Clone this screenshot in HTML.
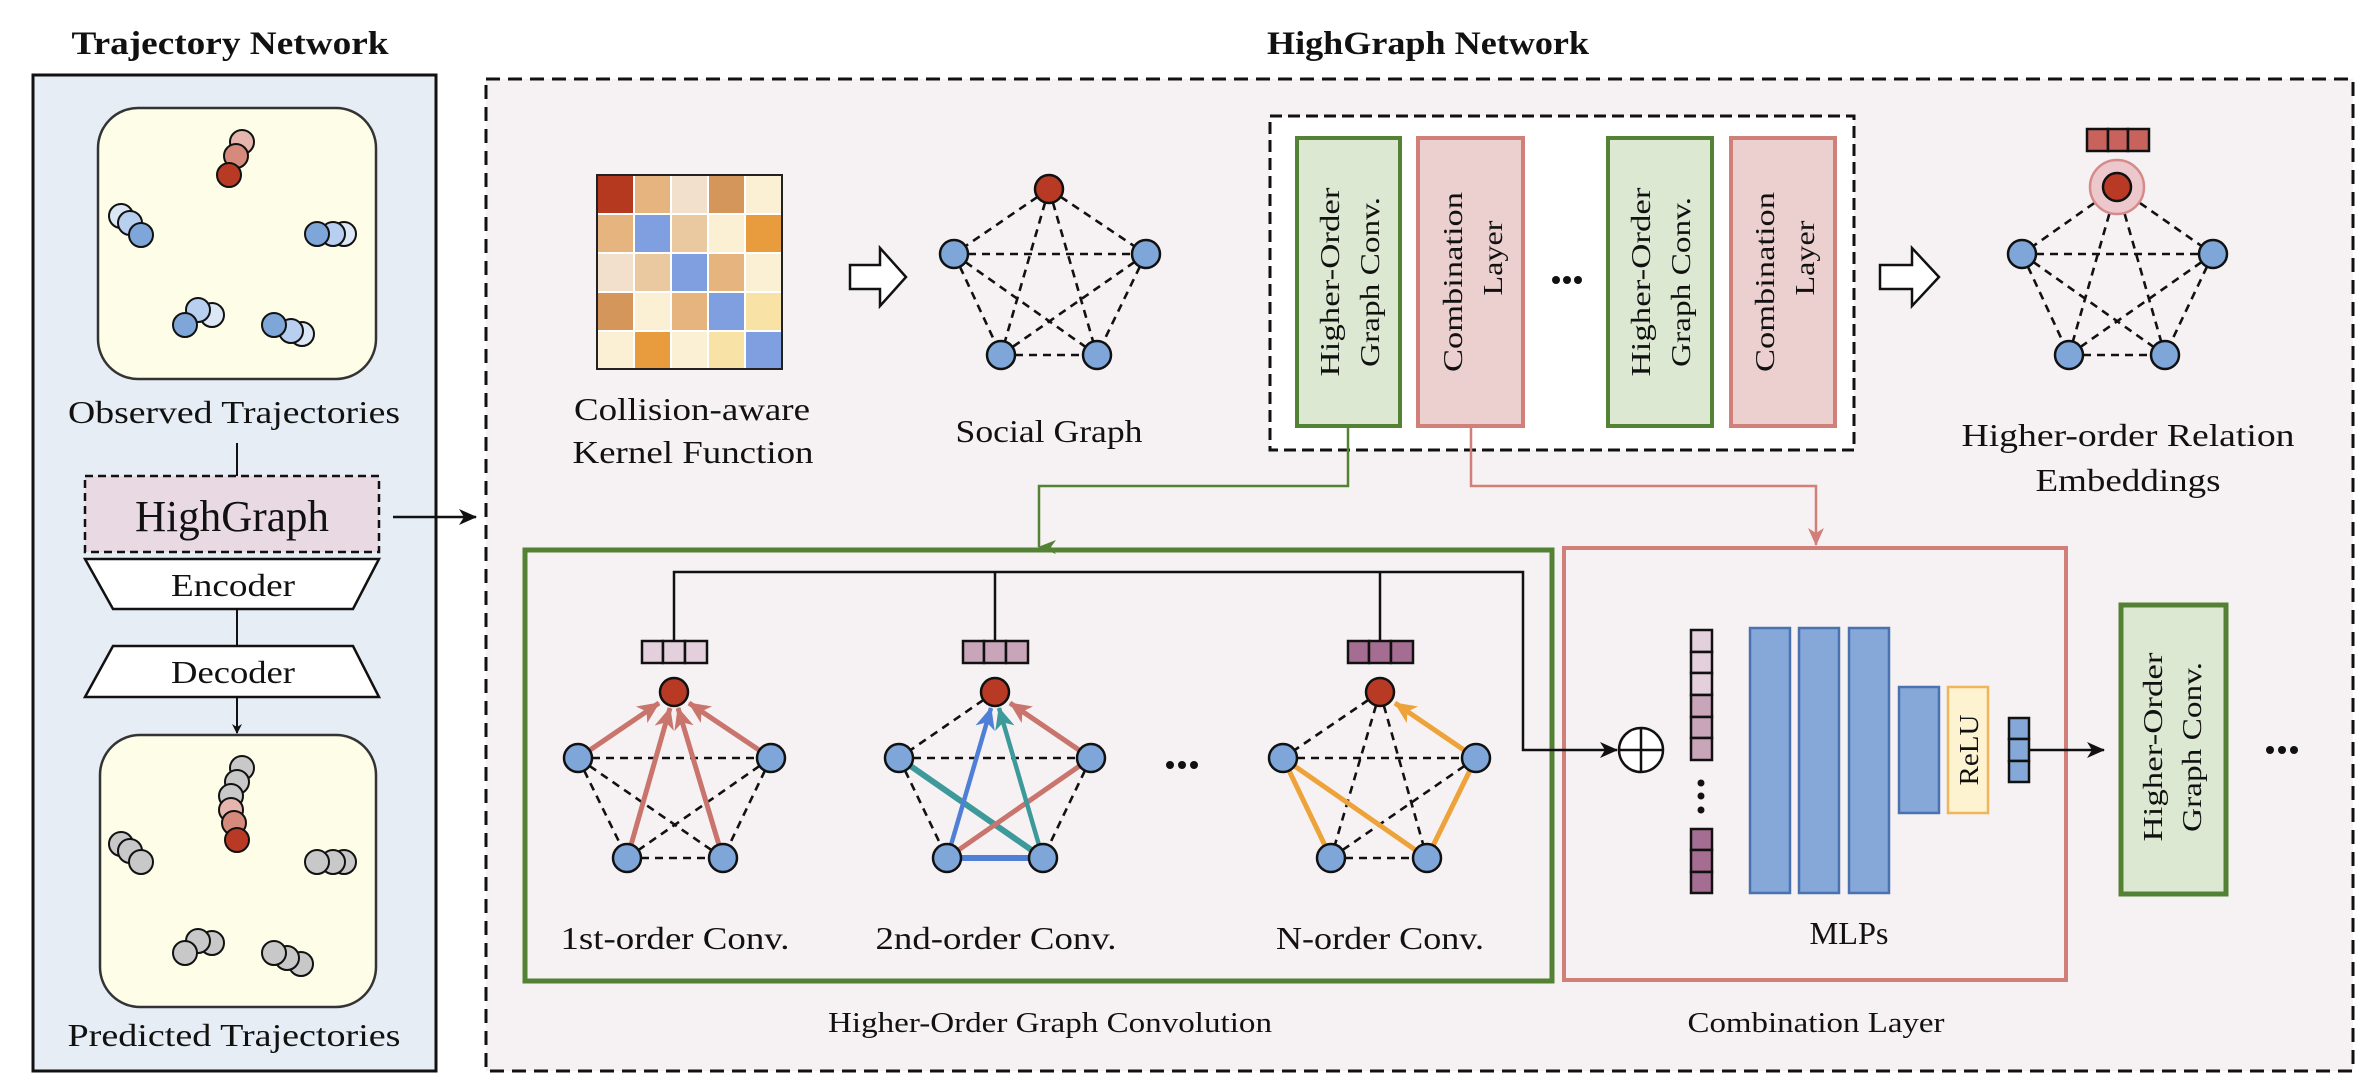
<!DOCTYPE html>
<html><head><meta charset="utf-8"><style>
html,body{margin:0;padding:0;background:#fff;}
svg{display:block;}
text{font-family:"Liberation Serif",serif;fill:#111;}
.t{font-size:32px;}
.b{font-weight:bold;}
.d{stroke:#111;stroke-width:2.6;stroke-dasharray:8 6;fill:none;}
.bar{font-family:"Liberation Serif",serif;font-size:27px;}
</style></head><body>
<svg width="2370" height="1086" viewBox="0 0 2370 1086" xmlns="http://www.w3.org/2000/svg">
<defs>
<marker id="ak" markerWidth="10" markerHeight="10" refX="9" refY="5" orient="auto" markerUnits="userSpaceOnUse"><path d="M0,0 L10,5 L0,10 L3,5z" fill="#111"/></marker>
<marker id="akb" markerWidth="18" markerHeight="16" refX="17" refY="8" orient="auto" markerUnits="userSpaceOnUse"><path d="M0,0 L18,8 L0,16 L5,8z" fill="#111"/></marker>
<marker id="ag" markerWidth="14" markerHeight="18" refX="7" refY="17" orient="auto-start-reverse" markerUnits="userSpaceOnUse"><path d="M0,0 L7,18 L14,0 L7,5z" fill="#548235"/></marker>
<marker id="ar" markerWidth="18" markerHeight="16" refX="17" refY="8" orient="auto" markerUnits="userSpaceOnUse"><path d="M0,0 L18,8 L0,16 L5,8z" fill="#d07f79"/></marker>
<marker id="ac" markerWidth="22" markerHeight="20" refX="21" refY="10" orient="auto" markerUnits="userSpaceOnUse"><path d="M0,0 L22,10 L0,20 L6,10z" fill="#c9746c"/></marker>
<marker id="abl" markerWidth="22" markerHeight="20" refX="21" refY="10" orient="auto" markerUnits="userSpaceOnUse"><path d="M0,0 L22,10 L0,20 L6,10z" fill="#4f7fd6"/></marker>
<marker id="ate" markerWidth="22" markerHeight="20" refX="21" refY="10" orient="auto" markerUnits="userSpaceOnUse"><path d="M0,0 L22,10 L0,20 L6,10z" fill="#3e9a9a"/></marker>
<marker id="aor" markerWidth="22" markerHeight="20" refX="21" refY="10" orient="auto" markerUnits="userSpaceOnUse"><path d="M0,0 L22,10 L0,20 L6,10z" fill="#eea33a"/></marker>
</defs>

<text x="230" y="54" class="b" font-size="33" text-anchor="middle" textLength="317" lengthAdjust="spacingAndGlyphs">Trajectory Network</text>
<text x="1428" y="54" class="b" font-size="33" text-anchor="middle" textLength="322" lengthAdjust="spacingAndGlyphs">HighGraph Network</text>

<rect x="33" y="75" width="403" height="996" fill="#e6edf5" stroke="#111" stroke-width="3"/>
<rect x="98" y="108" width="278" height="271" rx="40" fill="#fefde8" stroke="#333" stroke-width="2.5"/>
<text x="234" y="423" class="t" text-anchor="middle" textLength="332" lengthAdjust="spacingAndGlyphs">Observed Trajectories</text>
<line x1="237" y1="443" x2="237" y2="476" stroke="#111" stroke-width="2"/>
<rect x="85" y="476" width="294" height="76" fill="#e8d9e2" stroke="#111" stroke-width="2.5" stroke-dasharray="8 5"/>
<text x="232" y="531" font-size="44" text-anchor="middle" textLength="194" lengthAdjust="spacingAndGlyphs">HighGraph</text>
<line x1="393" y1="517" x2="476" y2="517" stroke="#111" stroke-width="2.5" marker-end="url(#akb)"/>
<polygon points="85,559 379,559 353,609 113,609" fill="#fff" stroke="#111" stroke-width="2.5"/>
<text x="233" y="596" class="t" text-anchor="middle" textLength="124" lengthAdjust="spacingAndGlyphs">Encoder</text>
<line x1="237" y1="609" x2="237" y2="646" stroke="#111" stroke-width="2"/>
<polygon points="113,646 353,646 379,697 85,697" fill="#fff" stroke="#111" stroke-width="2.5"/>
<text x="233" y="683" class="t" text-anchor="middle" textLength="124" lengthAdjust="spacingAndGlyphs">Decoder</text>
<line x1="237" y1="697" x2="237" y2="733" stroke="#111" stroke-width="2" marker-end="url(#ak)"/>
<rect x="100" y="735" width="276" height="272" rx="40" fill="#fefde8" stroke="#333" stroke-width="2.5"/>
<text x="234" y="1046" class="t" text-anchor="middle" textLength="333" lengthAdjust="spacingAndGlyphs">Predicted Trajectories</text>

<g stroke="#111" stroke-width="2">
<circle cx="242" cy="142" r="12" fill="#e6b5ad"/><circle cx="236" cy="156" r="12" fill="#d68a7c"/><circle cx="229" cy="175" r="12" fill="#b83a24"/>
<circle cx="121" cy="216" r="12" fill="#dbe7f5"/><circle cx="130" cy="223" r="12" fill="#b8cff0"/><circle cx="141" cy="235" r="12" fill="#7ea6d8"/>
<circle cx="344" cy="234" r="12" fill="#dbe7f5"/><circle cx="333" cy="234" r="12" fill="#b8cff0"/><circle cx="317" cy="234" r="12" fill="#7ea6d8"/>
<circle cx="212" cy="315" r="12" fill="#dbe7f5"/><circle cx="198" cy="310" r="12" fill="#b8cff0"/><circle cx="185" cy="325" r="12" fill="#7ea6d8"/>
<circle cx="302" cy="334" r="12" fill="#dbe7f5"/><circle cx="291" cy="331" r="12" fill="#b8cff0"/><circle cx="274" cy="325" r="12" fill="#7ea6d8"/>
</g>
<g stroke="#111" stroke-width="2">
<circle cx="242" cy="768" r="12" fill="#c8c8c8"/><circle cx="237" cy="782" r="12" fill="#c8c8c8"/><circle cx="231" cy="796" r="12" fill="#c8c8c8"/>
<circle cx="231" cy="810" r="12" fill="#e6b5ad"/><circle cx="234" cy="823" r="12" fill="#d68a7c"/><circle cx="237" cy="840" r="12" fill="#b83a24"/>
<circle cx="121" cy="844" r="12" fill="#c8c8c8"/><circle cx="130" cy="851" r="12" fill="#c8c8c8"/><circle cx="141" cy="862" r="12" fill="#c8c8c8"/>
<circle cx="344" cy="862" r="12" fill="#c8c8c8"/><circle cx="333" cy="862" r="12" fill="#c8c8c8"/><circle cx="317" cy="862" r="12" fill="#c8c8c8"/>
<circle cx="212" cy="943" r="12" fill="#c8c8c8"/><circle cx="198" cy="941" r="12" fill="#c8c8c8"/><circle cx="185" cy="953" r="12" fill="#c8c8c8"/>
<circle cx="301" cy="964" r="12" fill="#c8c8c8"/><circle cx="287" cy="958" r="12" fill="#c8c8c8"/><circle cx="274" cy="953" r="12" fill="#c8c8c8"/>
</g>

<rect x="486" y="79" width="1867" height="992" fill="#f6f2f3" stroke="#111" stroke-width="3" stroke-dasharray="14 8"/>

<g stroke="#fff" stroke-width="2">
<rect x="597" y="175" width="37" height="39" fill="#b5391f"/><rect x="634" y="175" width="37" height="39" fill="#e6b47e"/><rect x="671" y="175" width="37" height="39" fill="#f3e0cc"/><rect x="708" y="175" width="37" height="39" fill="#d4965a"/><rect x="745" y="175" width="37" height="39" fill="#fbf0d4"/>
<rect x="597" y="214" width="37" height="39" fill="#e6b47e"/><rect x="634" y="214" width="37" height="39" fill="#7f9fe0"/><rect x="671" y="214" width="37" height="39" fill="#eac9a0"/><rect x="708" y="214" width="37" height="39" fill="#fbf0d4"/><rect x="745" y="214" width="37" height="39" fill="#e89c3e"/>
<rect x="597" y="253" width="37" height="39" fill="#f3e0cc"/><rect x="634" y="253" width="37" height="39" fill="#eac9a0"/><rect x="671" y="253" width="37" height="39" fill="#7f9fe0"/><rect x="708" y="253" width="37" height="39" fill="#e6b47e"/><rect x="745" y="253" width="37" height="39" fill="#fbf0d4"/>
<rect x="597" y="292" width="37" height="39" fill="#d4965a"/><rect x="634" y="292" width="37" height="39" fill="#fbf0d4"/><rect x="671" y="292" width="37" height="39" fill="#e6b47e"/><rect x="708" y="292" width="37" height="39" fill="#7f9fe0"/><rect x="745" y="292" width="37" height="39" fill="#f8e2a6"/>
<rect x="597" y="331" width="37" height="38" fill="#fbf0d4"/><rect x="634" y="331" width="37" height="38" fill="#e89c3e"/><rect x="671" y="331" width="37" height="38" fill="#fbf0d4"/><rect x="708" y="331" width="37" height="38" fill="#f8e2a6"/><rect x="745" y="331" width="37" height="38" fill="#7f9fe0"/>
</g>
<rect x="597" y="175" width="185" height="194" fill="none" stroke="#222" stroke-width="2"/>
<text x="692" y="420" class="t" text-anchor="middle" textLength="236" lengthAdjust="spacingAndGlyphs">Collision-aware</text>
<text x="693" y="463" class="t" text-anchor="middle" textLength="241" lengthAdjust="spacingAndGlyphs">Kernel Function</text>

<polygon points="850,265 880,265 880,248 906,277 880,306 880,289 850,289" fill="#fff" stroke="#111" stroke-width="2.5"/>
<polygon points="1880,265 1912,265 1912,248 1939,277 1912,306 1912,289 1880,289" fill="#fff" stroke="#111" stroke-width="2.5"/>

<g class="d">
<line x1="1049" y1="189" x2="954" y2="254"/><line x1="1049" y1="189" x2="1146" y2="254"/><line x1="1049" y1="189" x2="1001" y2="355"/><line x1="1049" y1="189" x2="1097" y2="355"/>
<line x1="954" y1="254" x2="1146" y2="254"/><line x1="954" y1="254" x2="1001" y2="355"/><line x1="954" y1="254" x2="1097" y2="355"/>
<line x1="1146" y1="254" x2="1001" y2="355"/><line x1="1146" y1="254" x2="1097" y2="355"/><line x1="1001" y1="355" x2="1097" y2="355"/>
</g>
<g stroke="#111" stroke-width="2.5">
<circle cx="1049" cy="189" r="14" fill="#b83a24"/><circle cx="954" cy="254" r="14" fill="#7ea6d8"/><circle cx="1146" cy="254" r="14" fill="#7ea6d8"/><circle cx="1001" cy="355" r="14" fill="#7ea6d8"/><circle cx="1097" cy="355" r="14" fill="#7ea6d8"/>
</g>
<text x="1049" y="442" class="t" text-anchor="middle" textLength="187" lengthAdjust="spacingAndGlyphs">Social Graph</text>

<rect x="1270" y="116" width="584" height="334" fill="#fff" stroke="#111" stroke-width="3" stroke-dasharray="12 6"/>
<rect x="1297" y="138" width="103" height="288" fill="#dde8d3" stroke="#548235" stroke-width="4"/>
<rect x="1418" y="138" width="105" height="288" fill="#ecd0d0" stroke="#d07f79" stroke-width="4"/>
<rect x="1608" y="138" width="104" height="288" fill="#dde8d3" stroke="#548235" stroke-width="4"/>
<rect x="1731" y="138" width="104" height="288" fill="#ecd0d0" stroke="#d07f79" stroke-width="4"/>
<g class="bar" text-anchor="middle">
<text transform="translate(1339,282) rotate(-90)" textLength="189" lengthAdjust="spacingAndGlyphs">Higher-Order</text>
<text transform="translate(1379,282) rotate(-90)" textLength="170" lengthAdjust="spacingAndGlyphs">Graph Conv.</text>
<text transform="translate(1462,282) rotate(-90)" textLength="180" lengthAdjust="spacingAndGlyphs">Combination</text>
<text transform="translate(1502,258) rotate(-90)" textLength="75" lengthAdjust="spacingAndGlyphs">Layer</text>
<text transform="translate(1650,282) rotate(-90)" textLength="189" lengthAdjust="spacingAndGlyphs">Higher-Order</text>
<text transform="translate(1690,282) rotate(-90)" textLength="170" lengthAdjust="spacingAndGlyphs">Graph Conv.</text>
<text transform="translate(1774,282) rotate(-90)" textLength="180" lengthAdjust="spacingAndGlyphs">Combination</text>
<text transform="translate(1814,258) rotate(-90)" textLength="75" lengthAdjust="spacingAndGlyphs">Layer</text>
</g>
<g fill="#111"><circle cx="1556" cy="280" r="4"/><circle cx="1567" cy="280" r="4"/><circle cx="1578" cy="280" r="4"/></g>

<g class="d">
<line x1="2117" y1="187" x2="2022" y2="254"/><line x1="2117" y1="187" x2="2213" y2="254"/><line x1="2117" y1="187" x2="2069" y2="355"/><line x1="2117" y1="187" x2="2165" y2="355"/>
<line x1="2022" y1="254" x2="2213" y2="254"/><line x1="2022" y1="254" x2="2069" y2="355"/><line x1="2022" y1="254" x2="2165" y2="355"/>
<line x1="2213" y1="254" x2="2069" y2="355"/><line x1="2213" y1="254" x2="2165" y2="355"/><line x1="2069" y1="355" x2="2165" y2="355"/>
</g>
<circle cx="2117" cy="187" r="27" fill="#ecc8cc" stroke="#d68a8a" stroke-width="2.5"/>
<g stroke="#111" stroke-width="2.5">
<circle cx="2117" cy="187" r="14" fill="#b83a24"/><circle cx="2022" cy="254" r="14" fill="#7ea6d8"/><circle cx="2213" cy="254" r="14" fill="#7ea6d8"/><circle cx="2069" cy="355" r="14" fill="#7ea6d8"/><circle cx="2165" cy="355" r="14" fill="#7ea6d8"/>
</g>
<g stroke="#111" stroke-width="2.5" fill="#c8625c">
<rect x="2087" y="129" width="21" height="22"/><rect x="2108" y="129" width="20" height="22"/><rect x="2128" y="129" width="21" height="22"/>
</g>
<text x="2128" y="446" class="t" text-anchor="middle" textLength="333" lengthAdjust="spacingAndGlyphs">Higher-order Relation</text>
<text x="2128" y="491" class="t" text-anchor="middle" textLength="185" lengthAdjust="spacingAndGlyphs">Embeddings</text>

<polyline points="1348,426 1348,486 1039,486 1039,547" fill="none" stroke="#548235" stroke-width="2.5" marker-end="url(#ag)"/>
<polyline points="1471,426 1471,486 1816,486 1816,545" fill="none" stroke="#d07f79" stroke-width="2.5" marker-end="url(#ar)"/>

<rect x="525" y="550" width="1027" height="431" fill="none" stroke="#548235" stroke-width="5"/>
<rect x="1564" y="548" width="502" height="432" fill="none" stroke="#d07f79" stroke-width="4"/>

<polyline points="674,641 674,572 1523,572 1523,750 1617,750" fill="none" stroke="#111" stroke-width="2.5" marker-end="url(#akb)"/>
<line x1="995" y1="572" x2="995" y2="641" stroke="#111" stroke-width="2.5"/>
<line x1="1380" y1="572" x2="1380" y2="641" stroke="#111" stroke-width="2.5"/>
<g stroke="#111" stroke-width="2.5">
<rect x="642" y="641" width="21" height="22" fill="#e3d0dc"/><rect x="663" y="641" width="22" height="22" fill="#e3d0dc"/><rect x="685" y="641" width="22" height="22" fill="#e3d0dc"/>
<rect x="963" y="641" width="21" height="22" fill="#c9a5b9"/><rect x="984" y="641" width="22" height="22" fill="#c9a5b9"/><rect x="1006" y="641" width="22" height="22" fill="#c9a5b9"/>
<rect x="1348" y="641" width="21" height="22" fill="#a56d91"/><rect x="1369" y="641" width="22" height="22" fill="#a56d91"/><rect x="1391" y="641" width="22" height="22" fill="#a56d91"/>
</g>

<g class="d">
<line x1="578" y1="758" x2="771" y2="758"/><line x1="578" y1="758" x2="723" y2="858"/><line x1="771" y1="758" x2="627" y2="858"/>
<line x1="627" y1="858" x2="723" y2="858"/><line x1="578" y1="758" x2="627" y2="858"/><line x1="771" y1="758" x2="723" y2="858"/>
</g>
<g stroke="#c9746c" stroke-width="5" fill="none">
<line x1="590" y1="750" x2="659" y2="703" marker-end="url(#ac)"/>
<line x1="759" y1="750" x2="689" y2="703" marker-end="url(#ac)"/>
<line x1="631" y1="845" x2="670" y2="708" marker-end="url(#ac)"/>
<line x1="719" y1="845" x2="678" y2="708" marker-end="url(#ac)"/>
</g>
<g stroke="#111" stroke-width="2.5">
<circle cx="674" cy="692" r="14" fill="#b83a24"/><circle cx="578" cy="758" r="14" fill="#7ea6d8"/><circle cx="771" cy="758" r="14" fill="#7ea6d8"/><circle cx="627" cy="858" r="14" fill="#7ea6d8"/><circle cx="723" cy="858" r="14" fill="#7ea6d8"/>
</g>
<text x="675" y="949" class="t" text-anchor="middle" textLength="229" lengthAdjust="spacingAndGlyphs">1st-order Conv.</text>

<g class="d">
<line x1="995" y1="692" x2="899" y2="758"/><line x1="899" y1="758" x2="1091" y2="758"/><line x1="899" y1="758" x2="947" y2="858"/><line x1="1091" y1="758" x2="1043" y2="858"/>
</g>
<line x1="899" y1="758" x2="1043" y2="858" stroke="#3e9a9a" stroke-width="6"/>
<line x1="947" y1="858" x2="1091" y2="758" stroke="#c9746c" stroke-width="5"/>
<line x1="947" y1="858" x2="1043" y2="858" stroke="#4f7fd6" stroke-width="6"/>
<line x1="951" y1="845" x2="991" y2="708" stroke="#4f7fd6" stroke-width="4.5" marker-end="url(#abl)"/>
<line x1="1039" y1="845" x2="999" y2="708" stroke="#3e9a9a" stroke-width="4.5" marker-end="url(#ate)"/>
<line x1="1079" y1="750" x2="1010" y2="703" stroke="#c9746c" stroke-width="5" marker-end="url(#ac)"/>
<g stroke="#111" stroke-width="2.5">
<circle cx="995" cy="692" r="14" fill="#b83a24"/><circle cx="899" cy="758" r="14" fill="#7ea6d8"/><circle cx="1091" cy="758" r="14" fill="#7ea6d8"/><circle cx="947" cy="858" r="14" fill="#7ea6d8"/><circle cx="1043" cy="858" r="14" fill="#7ea6d8"/>
</g>
<text x="996" y="949" class="t" text-anchor="middle" textLength="241" lengthAdjust="spacingAndGlyphs">2nd-order Conv.</text>

<g fill="#111"><circle cx="1170" cy="765" r="4"/><circle cx="1182" cy="765" r="4"/><circle cx="1194" cy="765" r="4"/></g>

<g class="d">
<line x1="1380" y1="692" x2="1283" y2="758"/><line x1="1380" y1="692" x2="1331" y2="858"/><line x1="1380" y1="692" x2="1427" y2="858"/>
<line x1="1283" y1="758" x2="1476" y2="758"/><line x1="1476" y1="758" x2="1331" y2="858"/><line x1="1331" y1="858" x2="1427" y2="858"/>
</g>
<g stroke="#eea33a" stroke-width="5" fill="none">
<line x1="1283" y1="758" x2="1331" y2="858"/><line x1="1283" y1="758" x2="1427" y2="858"/><line x1="1476" y1="758" x2="1427" y2="858"/>
<line x1="1464" y1="750" x2="1395" y2="703" marker-end="url(#aor)"/>
</g>
<g stroke="#111" stroke-width="2.5">
<circle cx="1380" cy="692" r="14" fill="#b83a24"/><circle cx="1283" cy="758" r="14" fill="#7ea6d8"/><circle cx="1476" cy="758" r="14" fill="#7ea6d8"/><circle cx="1331" cy="858" r="14" fill="#7ea6d8"/><circle cx="1427" cy="858" r="14" fill="#7ea6d8"/>
</g>
<text x="1380" y="949" class="t" text-anchor="middle" textLength="208" lengthAdjust="spacingAndGlyphs">N-order Conv.</text>

<text x="1050" y="1032" font-size="29" text-anchor="middle" textLength="444" lengthAdjust="spacingAndGlyphs">Higher-Order Graph Convolution</text>
<text x="1816" y="1032" font-size="29" text-anchor="middle" textLength="257" lengthAdjust="spacingAndGlyphs">Combination Layer</text>

<circle cx="1641" cy="750" r="22" fill="#fff" stroke="#111" stroke-width="2.5"/>
<line x1="1619" y1="750" x2="1663" y2="750" stroke="#111" stroke-width="2.5"/>
<line x1="1641" y1="728" x2="1641" y2="772" stroke="#111" stroke-width="2.5"/>
<g stroke="#111" stroke-width="2.5">
<rect x="1691" y="630" width="21" height="22" fill="#e3d0dc"/><rect x="1691" y="652" width="21" height="21" fill="#e3d0dc"/><rect x="1691" y="673" width="21" height="22" fill="#e3d0dc"/>
<rect x="1691" y="695" width="21" height="22" fill="#c9a5b9"/><rect x="1691" y="717" width="21" height="21" fill="#c9a5b9"/><rect x="1691" y="738" width="21" height="22" fill="#c9a5b9"/>
<rect x="1691" y="829" width="21" height="21" fill="#a56d91"/><rect x="1691" y="850" width="21" height="22" fill="#a56d91"/><rect x="1691" y="872" width="21" height="21" fill="#a56d91"/>
</g>
<g fill="#111"><circle cx="1701" cy="783" r="3.5"/><circle cx="1701" cy="796" r="3.5"/><circle cx="1701" cy="810" r="3.5"/></g>
<g fill="#86a8d8" stroke="#4a72b0" stroke-width="2.5">
<rect x="1750" y="628" width="40" height="265"/><rect x="1799" y="628" width="40" height="265"/><rect x="1849" y="628" width="40" height="265"/>
<rect x="1899" y="687" width="40" height="126"/>
</g>
<rect x="1948" y="687" width="40" height="126" fill="#fdf3d0" stroke="#f0b55a" stroke-width="2.5"/>
<text transform="translate(1978,750) rotate(-90)" font-size="27" text-anchor="middle" textLength="71" lengthAdjust="spacingAndGlyphs">ReLU</text>
<g stroke="#111" stroke-width="2.5" fill="#86a8d8">
<rect x="2009" y="718" width="20" height="21"/><rect x="2009" y="739" width="20" height="22"/><rect x="2009" y="761" width="20" height="21"/>
</g>
<line x1="2029" y1="750" x2="2104" y2="750" stroke="#111" stroke-width="2.5" marker-end="url(#akb)"/>
<text x="1849" y="944" class="t" text-anchor="middle" textLength="79" lengthAdjust="spacingAndGlyphs">MLPs</text>

<rect x="2121" y="605" width="105" height="289" fill="#dde8d3" stroke="#548235" stroke-width="5"/>
<text transform="translate(2162,747) rotate(-90)" class="bar" text-anchor="middle" textLength="189" lengthAdjust="spacingAndGlyphs">Higher-Order</text>
<text transform="translate(2201,747) rotate(-90)" class="bar" text-anchor="middle" textLength="170" lengthAdjust="spacingAndGlyphs">Graph Conv.</text>
<g fill="#111"><circle cx="2270" cy="750" r="4"/><circle cx="2282" cy="750" r="4"/><circle cx="2294" cy="750" r="4"/></g>
</svg>
</body></html>
